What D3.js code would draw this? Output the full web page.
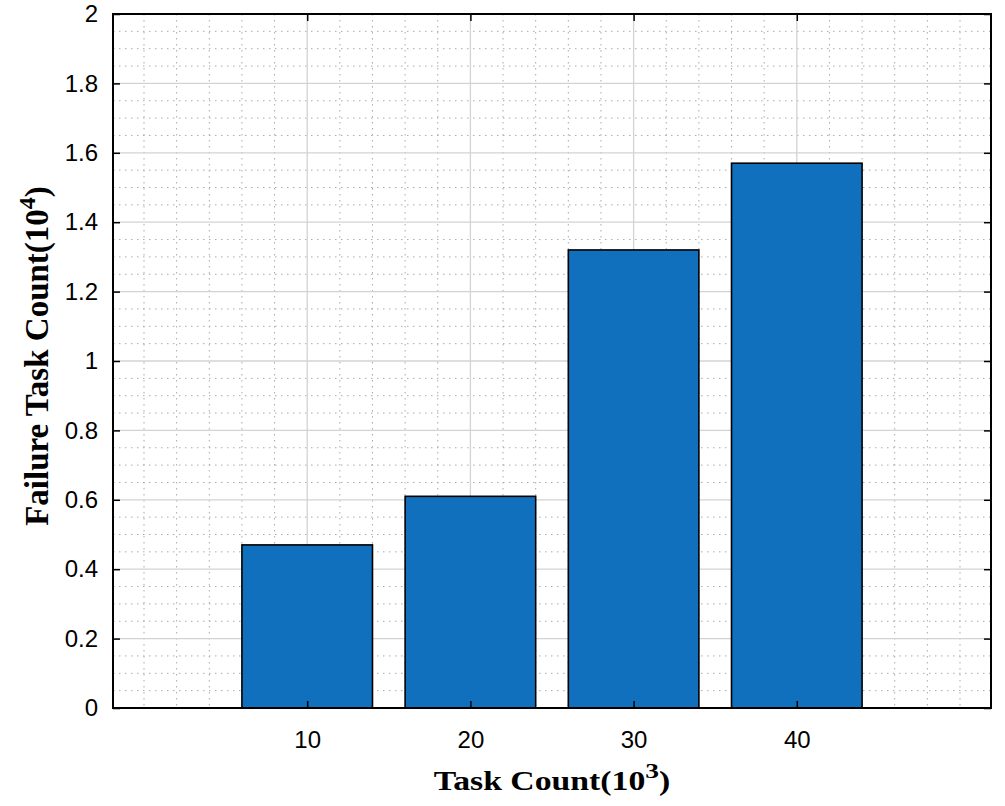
<!DOCTYPE html>
<html><head><meta charset="utf-8">
<script src="https://cdn.jsdelivr.net/npm/d3@7"></script>
<style>body{margin:0;background:#fff;} svg{display:block;}</style>
</head><body>
<svg id="c" width="1005" height="806"></svg>
<script>
const categories = [10, 20, 30, 40];
const values = [0.47, 0.61, 1.32, 1.57];
const xTicks = [10, 20, 30, 40];
const yTicks = [0, 0.2, 0.4, 0.6, 0.8, 1, 1.2, 1.4, 1.6, 1.8, 2];
const xMinor = d3.range(0, 52, 2);
const yMinor = d3.range(0, 2.0001, 0.05);
const barWidth = 8;

const W = 1005, H = 806;
const m = {left: 113, right: 14, top: 14, bottom: 98};
const svg = d3.select('#c');
const x = d3.scaleLinear().domain([-1.9, 51.9]).range([m.left, W - m.right]);
const y = d3.scaleLinear().domain([0, 2]).range([H - m.bottom, m.top]);
const x0 = m.left, x1 = W - m.right, y0 = H - m.bottom, y1 = m.top;

const g = svg.append('g');
// minor grid
g.append('g').selectAll('line').data(xMinor.filter(v => !xTicks.includes(v) && x(v) > x0 && x(v) < x1)).join('line')
  .attr('x1', d => x(d)).attr('x2', d => x(d)).attr('y1', y1).attr('y2', y0)
  .attr('stroke', '#aaaaaa').attr('stroke-width', 1).attr('stroke-dasharray', '1.5,4.5');
g.append('g').selectAll('line').data(yMinor.filter(v => Math.abs(v*5 - Math.round(v*5)) > 1e-6)).join('line')
  .attr('y1', d => y(d)).attr('y2', d => y(d)).attr('x1', x0).attr('x2', x1)
  .attr('stroke', '#aaaaaa').attr('stroke-width', 1).attr('stroke-dasharray', '1.5,4.5');
// major grid
g.append('g').selectAll('line').data(xTicks).join('line')
  .attr('x1', d => x(d)).attr('x2', d => x(d)).attr('y1', y1).attr('y2', y0)
  .attr('stroke', '#d3d3d3').attr('stroke-width', 1.3);
g.append('g').selectAll('line').data(yTicks.slice(1, -1)).join('line')
  .attr('y1', d => y(d)).attr('y2', d => y(d)).attr('x1', x0).attr('x2', x1)
  .attr('stroke', '#d3d3d3').attr('stroke-width', 1.3);

// bars
svg.append('g').selectAll('rect').data(categories).join('rect')
  .attr('x', (d) => x(d - barWidth / 2))
  .attr('width', d => x(d + barWidth / 2) - x(d - barWidth / 2))
  .attr('y', (d, i) => y(values[i]))
  .attr('height', (d, i) => y(0) - y(values[i]))
  .attr('fill', '#1170bd').attr('stroke', '#000').attr('stroke-width', 1.6);

// axes (ticks inward)
const fontTick = 'Liberation Sans, Arial, sans-serif';
const ax = svg.append('g').attr('transform', `translate(0,${y0})`)
  .call(d3.axisBottom(x).tickValues(xTicks).tickSizeInner(-7).tickSizeOuter(0).tickPadding(23));
const axT = svg.append('g').attr('transform', `translate(0,${y1})`)
  .call(d3.axisTop(x).tickValues(xTicks).tickSizeInner(-7).tickSizeOuter(0).tickFormat(''));
const ay = svg.append('g').attr('transform', `translate(${x0},0)`)
  .call(d3.axisLeft(y).tickValues(yTicks).tickSizeInner(-7).tickSizeOuter(0).tickPadding(15).tickFormat(d3.format('~g')));
const ayR = svg.append('g').attr('transform', `translate(${x1},0)`)
  .call(d3.axisRight(y).tickValues(yTicks).tickSizeInner(-7).tickSizeOuter(0).tickFormat(''));
[ax, axT, ay, ayR].forEach(a => {
  a.select('.domain').remove();
  a.selectAll('.tick line').attr('stroke', '#000').attr('stroke-width', 1.5);
  a.selectAll('.tick text').attr('font-family', fontTick).attr('font-size', 24).attr('fill', '#000');
});
// frame
svg.append('rect').attr('x', x0).attr('y', y1).attr('width', x1 - x0).attr('height', y0 - y1)
  .attr('fill', 'none').attr('stroke', '#000').attr('stroke-width', 2);

// titles
const serif = 'Liberation Serif, Times New Roman, serif';
const xt = svg.append('text').attr('transform', `translate(${(x0 + x1) / 2},790) scale(1.25,1)`).attr('text-anchor', 'middle')
  .attr('font-family', serif).attr('font-weight', 'bold').attr('font-size', 27);
xt.append('tspan').text('Task Count(10');
xt.append('tspan').attr('dy', -12).attr('font-size', 22).text('3');
xt.append('tspan').attr('dy', 12).text(')');

const yt = svg.append('text').attr('transform', `translate(48,356) rotate(-90)`).attr('text-anchor', 'middle')
  .attr('font-family', serif).attr('font-weight', 'bold').attr('font-size', 33);
yt.append('tspan').text('Failure Task Count(10');
yt.append('tspan').attr('dy', -13).attr('font-size', 24).text('4');
yt.append('tspan').attr('dy', 13).text(')');
</script>
</body></html>
